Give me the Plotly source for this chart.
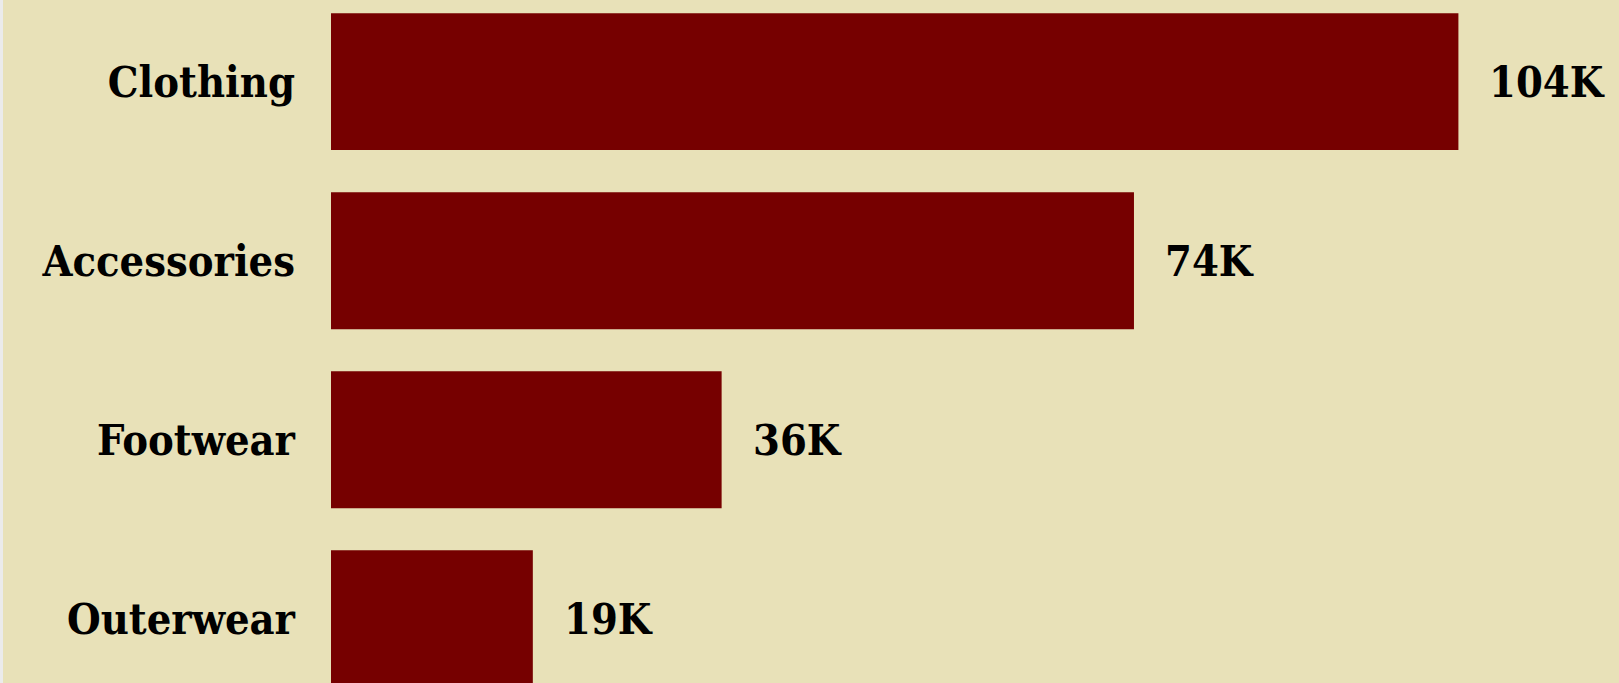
import plotly.graph_objects as go

categories = ["Clothing", "Accessories", "Footwear", "Outerwear"]
values = [103900, 74000, 36000, 18600]
labels = [f"{v/1000:.0f}K" for v in values]

BAR = "#760000"
BG = "#e8e1b8"
FONT = "DejaVu Serif Condensed, DejaVu Serif, serif"

fig = go.Figure(go.Bar(
    y=categories, x=values, orientation="h",
    marker=dict(color=BAR, line=dict(width=0)),
    hoverinfo="skip",
))

for c, v, t in zip(categories, values, labels):
    fig.add_annotation(x=v, y=c, xref="x", yref="y", text=f"<b>{t}</b>",
                       showarrow=False, xanchor="left", yanchor="middle", xshift=29,
                       font=dict(family=FONT, size=43, color="#000000"))

fig.update_layout(
    width=1619, height=683,
    margin=dict(l=331, r=0, t=0, b=0, pad=0),
    paper_bgcolor="#ebebeb", plot_bgcolor=BG,
    bargap=0.235, showlegend=False,
    shapes=[dict(type="rect", xref="paper", yref="paper", x0=-328/1288, x1=1, y0=0, y1=1,
                 fillcolor=BG, line=dict(width=0), layer="below")],
)
fig.update_xaxes(range=[0, 118700], visible=False, showgrid=False, zeroline=False)
fig.update_yaxes(range=[3.359, -0.456], showgrid=False, zeroline=False, showline=False,
                 ticks="", ticklabelstandoff=35,
                 tickfont=dict(family=FONT, size=43, color="#000000", weight="bold"))

fig.write_html("out.html")
